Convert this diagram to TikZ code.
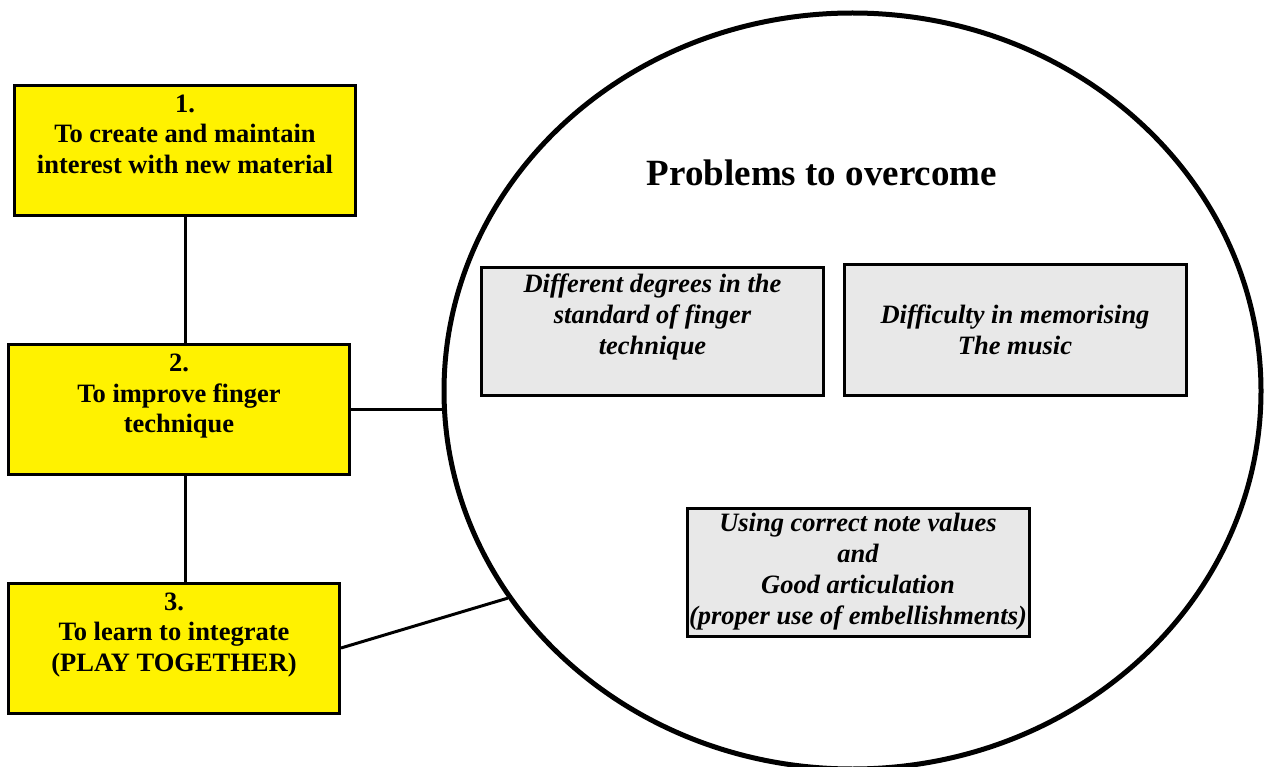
\documentclass[tikz,border=0pt]{standalone}
\usepackage{fontspec}
\setmainfont{Liberation Serif}
\usetikzlibrary{shapes.geometric}

\tikzset{
  goal/.style={draw, line width=3pt, fill=yellow, text width=333pt, align=flush center,
    inner sep=4pt, text height=23pt, text depth=99pt,
    font=\bfseries\fontsize{26.5}{30.5}\selectfont},
  problem/.style={draw, line width=3pt, fill=black!9, text width=340pt, minimum height=128pt,
    align=flush center, inner xsep=1pt, inner ysep=4pt,
    font=\bfseries\itshape\fontsize{26.5}{31}\selectfont},
  link/.style={line width=3pt}
}

\begin{document}
\begin{tikzpicture}[x=1pt, y=-1pt]
    \useasboundingbox (0,0) rectangle (1264,767);

    % Draw nodes
    \node[draw, ellipse, line width=5pt, minimum width=817pt, minimum height=756pt] (problems) at (852.5,391) {};
    \node[font=\bfseries\fontsize{37}{44}\selectfont] (heading) at (822,173) {Problems to overcome};

    \node[goal] (goal1) at (185,150.5) {1.\\To create and maintain\\interest with new material};
    \node[goal] (goal2) at (179,409.5) {2.\\To improve finger\\technique};
    \node[goal, text width=323pt] (goal3) at (174,648) {3.\\To learn to integrate\\(PLAY TOGETHER)};

    \node[problem, text height=21.5pt, text depth=98.5pt] (degrees) at (652.5,331.5) {Different degrees in the\\standard of finger\\technique};
    \node[problem, minimum height=131pt] (memory) at (1015,330) {Difficulty in memorising\\The music};
    \node[problem] (values) at (858,572) {Using correct note values\\and\\Good articulation\\(proper use of embellishments)};

    % Draw connections
    \draw[link] (goal1.south) -- (goal1.south |- goal2.north);
    \draw[link] (goal2.south -| goal1.south) -- (goal1.south |- goal3.north);
    \draw[link] (goal2.east) -- (goal2.east -| problems.west);
    \draw[link] (goal3.east) -- (problems.211.9);
\end{tikzpicture}
\end{document}
